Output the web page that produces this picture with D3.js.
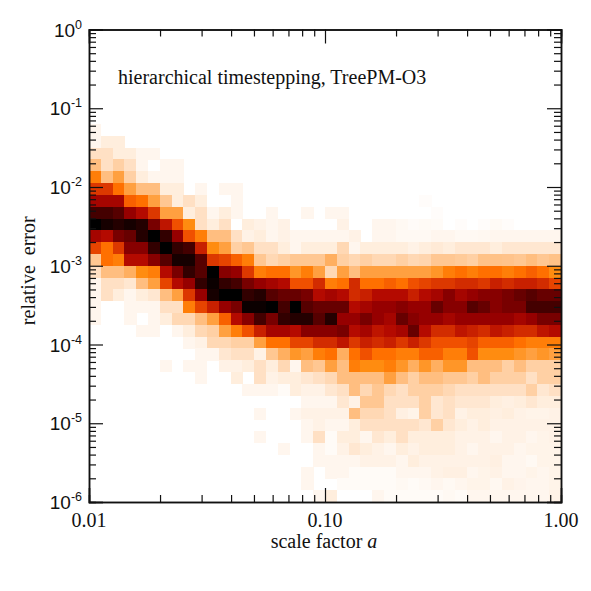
<!DOCTYPE html>
<html>
<head>
<meta charset="utf-8">
<script src="https://cdn.jsdelivr.net/npm/d3@7"></script>
<style>
  html, body { margin: 0; padding: 0; background: #fff; }
  svg { display: block; }
</style>
</head>
<body>
<div id="chart"></div>
<script>
// Density, one list per error bin (top to bottom),
// one value per scale factor bin. Missing trailing values are empty cells.
const density = [
  [], [], [], [], [], [], [], [],
  [1],
  [1, 2, 2],
  [3, 3, 2, 2, 1, 1],
  [5, 3, 4, 3, 1, 0, 1, 1],
  [7.5, 5, 6, 4, 2, 1, 1, 1],
  [10, 10, 8, 6, 5, 5, 2, 2, 0, 1, 0, 1, 1],
  [12.5, 12.5, 12.5, 8.5, 8, 6, 4.5, 2, 3, 2, 0, 0, 1, 0, 0, 0, 0, 0, 0, 0, 0, 0, 0, 0, 0, 0, 0, 0, 0.3],
  [15.5, 15.5, 15, 13, 12, 10, 6, 6, 2, 3, 1, 2, 1, 0, 0, 1, 0, 0, 1, 0, 1, 1, 0, 0, 0, 0, 0, 0, 0, 0.3],
  [18, 17, 16.5, 17, 16.5, 14, 11.5, 9, 7, 3, 2, 3, 0, 2, 1.5, 1, 1.5, 0, 0, 0, 0, 1.5, 0, 0, 1, 1, 0.7, 0.4, 0.6, 0.5, 0, 0.3, 0, 0.3, 0.6, 0.3],
  [12.5, 12, 14, 14.5, 16.5, 18, 16, 13, 9, 7.5, 5, 5, 3, 1.5, 2, 1, 1.5, 1, 1, 1, 1, 1, 1.5, 0, 1, 1, 0.7, 0.7, 0.7, 1, 1, 0.7, 0.7, 0.8, 1, 1, 1, 1, 1, 1],
  [9.5, 8, 10, 13.5, 13.5, 16, 18, 16, 15.5, 11, 7, 6, 4, 4.5, 3, 3, 2, 1, 2, 2, 2, 3.5, 1, 2, 2, 2, 2, 1.5, 2, 2.3, 2, 2.5, 2.5, 2.5, 2, 2.5, 2.5, 2.5, 2.5, 2.5],
  [4.5, 8, 7.5, 12, 12, 13.5, 15, 17, 17, 15, 10, 9.5, 8.5, 7.5, 4.5, 3.5, 4, 4.5, 4.5, 4.5, 5.5, 4, 3.5, 4, 3.5, 3.5, 4, 3.5, 3.7, 4.5, 4.5, 4.3, 4, 4.8, 4.8, 4.7, 4.5, 5, 4.5, 4.8],
  [3, 5, 5, 5.5, 7, 7.5, 12, 14, 16, 15, 18, 13.5, 13, 10, 7.5, 8, 8, 6.5, 7.5, 6, 3.5, 6, 5, 6, 6, 6, 6, 6, 6, 6.5, 7.5, 8, 7.5, 8, 8, 7.5, 8, 8.5, 8, 7],
  [1, 3, 3, 2.5, 5, 6, 9.5, 12, 13, 16, 17.5, 16, 15.5, 14, 13, 12.5, 12, 9, 9, 10.5, 7.5, 8, 10.5, 8, 8, 8.5, 8, 9, 9.5, 10, 10, 10.5, 10.5, 10, 11, 10.5, 11, 11, 10.5, 9.5],
  [1, 3, 2, 1, 2, 2.5, 5, 6, 10, 13, 17, 18, 18, 16, 16.5, 15, 14.5, 14.5, 14, 12, 12.5, 12, 10.5, 11, 12, 12, 12, 11, 12, 12.5, 13.5, 12.5, 13, 13.5, 13.5, 14, 14.5, 15, 14.5, 14.5],
  [1, 0, 0, 1, 1, 1, 3, 3, 7.5, 9.5, 11, 13, 14, 17.5, 17.5, 18, 15.5, 18, 15, 14.5, 14.5, 14.5, 12, 12.5, 13, 13, 13.5, 13, 13, 14.5, 13.5, 13.5, 15, 14.5, 13.5, 14, 14, 15.5, 15.5, 15.5],
  [1, 0, 0, 1, 0, 1, 2, 3.5, 3.5, 5, 6, 8.5, 12, 13.5, 15.5, 14, 16, 16.5, 16.5, 15, 16.5, 13, 13, 14, 13, 12.5, 14.5, 13.5, 13, 13, 12.5, 13, 13, 13, 13, 13, 12.5, 13, 14, 14],
  [0, 0, 0, 0, 1, 1, 0, 1, 2, 3.5, 4, 6, 7.5, 9, 11, 12.5, 12.5, 12, 13.5, 13.5, 13.5, 14, 12, 12.5, 11.5, 12, 12.5, 14.5, 12, 10.5, 10.5, 11.5, 11, 10.5, 11.5, 11, 10.5, 10.5, 11.5, 12],
  [0, 0, 0, 0, 0, 0, 0, 0, 1, 1.5, 3.5, 3.5, 4, 4, 6, 8, 8, 9.5, 9.5, 10.5, 10.5, 11.5, 10, 11, 10.5, 11, 10, 11, 10, 9, 9, 9, 9.5, 8.5, 8.5, 8.5, 8, 7.5, 7.5, 7.5],
  [0, 0, 0, 0, 0, 0, 0, 0, 0, 1, 1, 2.5, 3, 3, 1.5, 4.5, 5.5, 6.5, 6, 7.5, 8, 5.5, 8, 9, 8, 8, 7.5, 7.5, 8.5, 8.5, 7.5, 7.5, 9, 7, 7, 7, 6.5, 6, 6.5, 6],
  [0, 0, 0, 0, 0, 0, 1, 0, 1, 1, 0, 1.5, 1.5, 2, 3, 2, 3.5, 1, 5, 4.5, 6, 5, 7.5, 7, 7, 7.5, 6.5, 5.5, 6.5, 5.5, 6.5, 6.5, 5, 5, 5, 4, 5, 4, 4, 4],
  [0, 0, 0, 0, 0, 0, 0, 0, 0, 1, 0, 0, 2, 0, 3, 1.5, 2, 2, 2.5, 3, 3.5, 5, 5, 5, 5, 6, 5, 4, 5, 5, 4.5, 4.5, 4, 5, 4, 4, 4, 3, 4, 4],
  [0, 0, 0, 0, 0, 0, 0, 0, 0, 0, 0, 0, 0, 1, 1, 1, 0.5, 2, 1.5, 1.5, 2.5, 3, 5, 3.5, 4.5, 3.5, 3, 4, 4, 4, 3.5, 3, 3, 3, 3, 3, 3, 4, 2.5, 3],
  [0, 0, 0, 0, 0, 0, 0, 0, 0, 0, 0, 0, 0, 0, 0, 0, 0, 0, 1, 1, 1, 2.5, 1.5, 4.5, 4.5, 3, 3, 3, 4, 2.5, 3, 2.5, 2.5, 2.5, 2, 1.7, 2, 2.5, 2, 2],
  [0, 0, 0, 0, 0, 0, 0, 0, 0, 0, 0, 0, 0, 0, 1, 0, 0, 1, 1.5, 1.5, 1.5, 1.5, 5, 3.5, 3.5, 3, 1.7, 1.3, 4, 2.5, 3, 1.5, 2, 2, 1.7, 2, 1.5, 1.3, 1.3, 1.5],
  [0, 0, 0, 0, 0, 0, 0, 0, 0, 0, 0, 0, 0, 0, 0, 0, 0, 0, 1, 1.5, 1, 1, 2, 3, 3, 3, 3, 3, 2.5, 4, 2.5, 2, 1.5, 2, 1.5, 1.5, 1.5, 1.5, 1.5, 1.5],
  [0, 0, 0, 0, 0, 0, 0, 0, 0, 0, 0, 0, 0, 0, 1, 0, 0, 0, 1, 3, 0.5, 2, 2, 1, 2.5, 2, 3, 2, 2, 2, 2, 1.5, 1.5, 1.5, 1, 1.5, 1.5, 1, 1.3, 1.5],
  [0, 0, 0, 0, 0, 0, 0, 0, 0, 0, 0, 0, 0, 0, 0, 0, 1, 0, 0, 1, 0.5, 1.5, 2.5, 2, 1.5, 1, 2, 1.5, 2, 2, 2, 1.5, 1, 1.5, 1.5, 1.5, 1, 1.3, 1.3, 1.3],
  [0, 0, 0, 0, 0, 0, 0, 0, 0, 0, 0, 0, 0, 0, 0, 0, 0, 0, 0, 1, 1, 1, 1, 1.5, 1.5, 1.5, 1, 2, 1.5, 1.5, 1.5, 1.5, 1.5, 1.5, 1.7, 1, 1, 0.7, 1.3, 1.3],
  [0, 0, 0, 0, 0, 0, 0, 0, 0, 0, 0, 0, 0, 0, 0, 0, 0, 0, 1, 0, 1, 1, 0.5, 0.5, 0.5, 0.5, 1, 1, 1, 1.5, 1.7, 1.7, 1, 1.3, 1.5, 1, 1, 1.3, 1, 1.3],
  [0, 0, 0, 0, 0, 0, 0, 0, 0, 0, 0, 0, 0, 0, 0, 0, 0, 0, 1, 0, 0, 0.5, 0.5, 0.5, 0.5, 0.5, 0.7, 0.5, 0.7, 1, 0.7, 1, 1.3, 1.3, 0.8, 1.5, 1.2, 1, 1, 1.3],
  [0, 0, 0, 0, 0, 0, 0, 0, 0, 0, 0, 0, 0, 0, 0, 0, 0, 0, 0, 1, 2, 0, 0, 0, 1, 0.5, 0.5, 0.5, 0.5, 0.5, 0.7, 0.5, 1, 1, 1, 1, 1, 1, 1, 1.5]
];

// Colour table, from empty to densest
const colorLevels = d3.range(0, 19);
const colorStops = [
  "#ffffff", "#fff6ee", "#ffeedd", "#ffe0c4", "#ffd0a4", "#ffbe80", "#ffa040",
  "#ff8c10", "#ff7000", "#f05000", "#dc3800", "#c82000", "#b40a00", "#960000",
  "#780000", "#560000", "#320000", "#160000", "#000000"
];

const xMajor = [0.01, 0.1, 1];
const xLabels = ["0.01", "0.10", "1.00"];
const yExponents = [0, -1, -2, -3, -4, -5, -6];

// Dimensions
const margin = { top: 29.5, right: 30, bottom: 89, left: 89 };
const width = 591 - margin.left - margin.right;
const height = 591 - margin.top - margin.bottom;

// Scales
const x = d3.scaleLog().domain([0.01, 1]).range([0, width]);
const y = d3.scaleLog().domain([1e-6, 1]).range([height, 0]);
const xBins = d3.scaleBand().domain(d3.range(40)).range([0, width]);
const yBins = d3.scaleBand().domain(d3.range(40)).range([0, height]);
const color = d3.scaleLinear().domain(colorLevels).range(colorStops);

// Minor ticks: 2..9 in each decade
const minorsFor = (decades) =>
  decades.flatMap((d) => d3.range(2, 10).map((m) => m * d));
const xMinor = minorsFor([0.01, 0.1]);
const yMinor = minorsFor(yExponents.slice(1).map((e) => Math.pow(10, e)));
const yMajor = yExponents.map((e) => Math.pow(10, e));

const svg = d3
  .select("#chart")
  .append("svg")
  .attr("width", 591)
  .attr("height", 591);

const g = svg
  .append("g")
  .attr("transform", `translate(${margin.left},${margin.top})`);

// Create cells
const cellData = density.flatMap((row, j) =>
  row.map((value, i) => ({ i, j, value })).filter((d) => d.value > 0)
);

g.append("g")
  .attr("shape-rendering", "crispEdges")
  .selectAll("rect")
  .data(cellData)
  .join("rect")
  .attr("x", (d) => xBins(d.i))
  .attr("y", (d) => yBins(d.j))
  .attr("width", xBins.bandwidth() + 0.3)
  .attr("height", yBins.bandwidth() + 0.3)
  .attr("fill", (d) => color(d.value));

// Axes, ticks all point into the plot
function drawAxis(axisFn, scale, major, minor, transform) {
  [[major, 14], [minor, 7]].forEach(([values, size]) => {
    const axis = g
      .append("g")
      .attr("transform", transform)
      .call(axisFn(scale).tickValues(values).tickSize(-size).tickFormat(""));
    axis.select(".domain").attr("stroke-width", 1.5).attr("stroke", "#111");
    axis.selectAll("line").attr("stroke-width", 1.2).attr("stroke", "#111");
  });
}

drawAxis(d3.axisBottom, x, xMajor, xMinor, `translate(0,${height})`);
drawAxis(d3.axisTop, x, xMajor, xMinor, "translate(0,0)");
drawAxis(d3.axisLeft, y, yMajor, yMinor, "translate(0,0)");
drawAxis(d3.axisRight, y, yMajor, yMinor, `translate(${width},0)`);

// X tick labels
g.selectAll(".x-label")
  .data(xMajor)
  .join("text")
  .attr("class", "x-label")
  .attr("x", (d) => x(d))
  .attr("y", height + 25)
  .attr("text-anchor", "middle")
  .style("font-family", "'Liberation Serif', serif")
  .style("font-size", "20px")
  .style("fill", "#111")
  .text((d, i) => xLabels[i]);

// Y tick labels
const yLabel = g
  .selectAll(".y-label")
  .data(yExponents)
  .join("text")
  .attr("class", "y-label")
  .attr("x", -7)
  .attr("y", (d) => y(Math.pow(10, d)) + 7)
  .attr("text-anchor", "end")
  .style("font-family", "'Liberation Sans', sans-serif")
  .style("font-size", "19px")
  .style("fill", "#111");

yLabel.append("tspan").text("10");
yLabel
  .append("tspan")
  .attr("dy", -8)
  .style("font-size", "12.5px")
  .text((d) => d);

// Labels
const serif = "'Liberation Serif', serif";

g.append("text")
  .attr("x", 29)
  .attr("y", 54.5)
  .style("font-family", serif)
  .style("font-size", "20px")
  .style("fill", "#111")
  .text("hierarchical timestepping, TreePM-O3");

const xTitle = g
  .append("text")
  .attr("x", width / 2 - 1)
  .attr("y", height + 46)
  .attr("text-anchor", "middle")
  .style("font-family", serif)
  .style("font-size", "20px")
  .style("fill", "#111");
xTitle.append("tspan").text("scale factor ");
xTitle.append("tspan").style("font-style", "italic").text("a");

g.append("text")
  .attr("transform", "rotate(-90)")
  .attr("x", -height / 2 - 5)
  .attr("y", -54)
  .attr("text-anchor", "middle")
  .style("white-space", "pre")
  .style("font-family", serif)
  .style("font-size", "20px")
  .style("fill", "#111")
  .text("relative  error");
</script>
</body>
</html>
